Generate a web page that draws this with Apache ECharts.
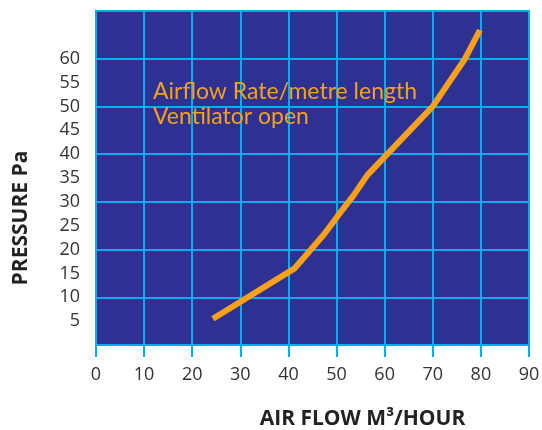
<!DOCTYPE html>
<html>
<head>
<meta charset="utf-8">
<script src="https://cdn.jsdelivr.net/npm/echarts@6/dist/echarts.min.js"></script>
<style>
html,body{margin:0;padding:0;background:#fff;}
#c{width:542px;height:430px;}
</style>
</head>
<body>
<div id="c"></div>
<script>
var airflow = [24.3, 41.2, 44.5, 47.5, 50.2, 53.5, 56.4, 70, 76.7, 79.8];
var pressure = [5.5, 16, 19.8, 23.3, 27, 31.3, 35.6, 50, 60, 66];
var xTicks = [0, 10, 20, 30, 40, 50, 60, 70, 80, 90];
var yTickLabels = [5, 10, 15, 20, 25, 30, 35, 40, 45, 50, 55, 60];
var noteLines = ['Airflow Rate/metre length', 'Ventilator open'];

var CYAN = '#00aeef';
var ORANGE = '#f7a11a';
var chart = echarts.init(document.getElementById('c'));
chart.setOption({
  animation: false,
  grid: {left: 96, right: 13, top: 11, bottom: 85, show: true, containLabel: false,
         outerBoundsMode: 'none',
         backgroundColor: '#2e3192', borderColor: CYAN, borderWidth: 2},
  xAxis: {
    type: 'value', min: xTicks[0], max: xTicks[xTicks.length - 1], interval: 10,
    name: 'AIR FLOW M³/HOUR', nameLocation: 'middle', nameGap: 64,
    nameTextStyle: {fontFamily: 'Open Sans', fontWeight: 'bold', fontSize: 21, color: '#222', padding: [0, 0, 0, 100]},
    axisLine: {show: true, lineStyle: {color: CYAN, width: 2}},
    axisTick: {show: true, length: 12, lineStyle: {color: CYAN, width: 2}},
    axisLabel: {margin: 21, fontFamily: 'Open Sans', fontSize: 18, color: '#333'},
    splitLine: {show: true, lineStyle: {color: CYAN, width: 2}}
  },
  yAxis: [{
    type: 'value', min: 0, max: 70, interval: 5,
    name: 'PRESSURE Pa', nameLocation: 'middle', nameGap: 64,
    nameTextStyle: {fontFamily: 'Open Sans', fontWeight: 'bold', fontSize: 21, color: '#222', padding: [0, 80, 0, 0]},
    axisLine: {show: false}, axisTick: {show: false},
    axisLabel: {margin: 16, fontFamily: 'Open Sans', fontSize: 18, color: '#333', padding: [9, 0, 0, 0],
      formatter: function (v) { return yTickLabels.indexOf(v) >= 0 ? String(v) : ''; }},
    splitLine: {show: false}
  }, {
    type: 'value', min: 0, max: 70, interval: 10, position: 'left',
    axisLine: {show: false}, axisTick: {show: false}, axisLabel: {show: false},
    splitLine: {show: true, lineStyle: {color: CYAN, width: 2}}
  }],
  graphic: [
    {type: 'text', left: 153, top: 79, z: 10,
     style: {text: noteLines.join('\n'), fill: ORANGE, font: '23px Lato', lineHeight: 25}}
  ],
  series: [{
    type: 'line', yAxisIndex: 0, showSymbol: false, smooth: false,
    data: airflow.map(function (x, i) { return [x, pressure[i]]; }),
    lineStyle: {color: ORANGE, width: 6}, z: 5
  }]
});
</script>
</body>
</html>
